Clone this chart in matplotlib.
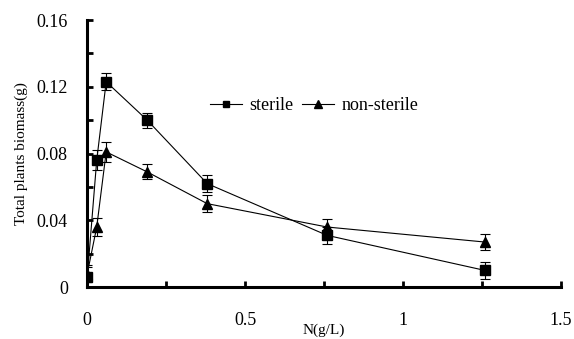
import matplotlib.pyplot as plt
from matplotlib.lines import Line2D

plt.rcParams['font.family'] = ['Liberation Serif', 'DejaVu Serif']

# N concentration (g/L)
n_conc = [0, 0.03, 0.06, 0.19, 0.38, 0.76, 1.26]

sterile = [0.006, 0.076, 0.123, 0.100, 0.062, 0.031, 0.010]
sterile_err = [0.006, 0.006, 0.005, 0.0045, 0.005, 0.005, 0.005]

non_sterile = [0.008, 0.036, 0.081, 0.069, 0.050, 0.036, 0.027]
non_sterile_err = [0.005, 0.0055, 0.006, 0.0045, 0.005, 0.005, 0.005]

fig = plt.figure(figsize=(5.74, 3.39), dpi=100)
ax = fig.add_axes([0.152, 0.153, 0.825, 0.788])

ax.errorbar(n_conc, sterile, yerr=sterile_err, marker='s', ms=6.5, color='black',
            lw=0.8, elinewidth=0.8, capsize=3.5, capthick=0.8)
ax.errorbar(n_conc, non_sterile, yerr=non_sterile_err, marker='^', ms=7, color='black',
            lw=0.8, elinewidth=0.8, capsize=3.5, capthick=0.8)

ax.set_xlim(0, 1.5)
ax.set_ylim(0, 0.16)
ax.set_xticks([0, 0.5, 1, 1.5])
ax.set_xticklabels(['0', '0.5', '1', '1.5'])
ax.set_xticks([0.25, 0.75, 1.25], minor=True)
ax.set_yticks([0, 0.04, 0.08, 0.12, 0.16])
ax.set_yticklabels(['0', '0.04', '0.08', '0.12', '0.16'])
ax.set_yticks([0.02, 0.06, 0.10, 0.14], minor=True)

for s in ['top', 'right']:
    ax.spines[s].set_visible(False)
for s in ['left', 'bottom']:
    ax.spines[s].set_linewidth(2.2)

ax.tick_params(which='both', direction='in', length=4, width=2, labelsize=13)
ax.tick_params(axis='x', pad=18)
ax.tick_params(axis='y', pad=14)

ax.set_xlabel('N(g/L)', fontsize=11, labelpad=-4)
ax.set_ylabel('Total plants biomass(g)', fontsize=11, labelpad=6)

handles = [Line2D([], [], color='black', lw=0.8, marker='s', ms=5),
           Line2D([], [], color='black', lw=0.8, marker='^', ms=5.5)]
ax.legend(handles, ['sterile', 'non-sterile'], ncol=2, frameon=False, fontsize=13,
          loc='upper left', bbox_to_anchor=(0.24, 0.745), handlelength=1.8,
          handletextpad=0.4, columnspacing=0.45, borderpad=0)

fig.savefig('out.png', dpi=100)
